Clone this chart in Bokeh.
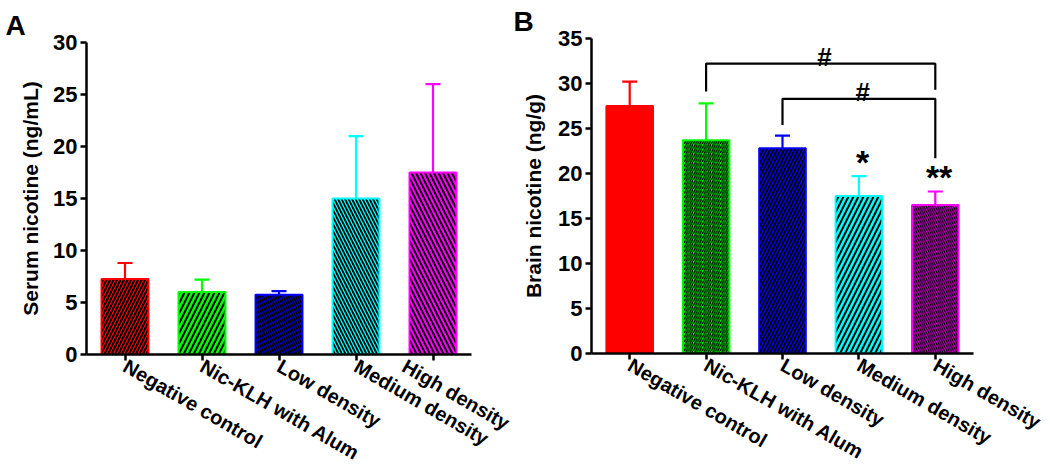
import math
from bokeh.plotting import figure
from bokeh.layouts import row, column
from bokeh.models import ColumnDataSource, FactorRange, Range1d, FixedTicker, Spacer
from bokeh.embed import file_html
from bokeh.resources import INLINE
from bokeh.core.properties import value

categories = ["Negative control", "Nic-KLH with Alum", "Low density",
              "Medium density", "High density"]
bar_colors = ["#FF0000", "#00FF00", "#0000FF", "#00FFFF", "#FF00FF"]

# Panel A: serum nicotine (ng/mL)
serum_mean = [7.25, 6.0, 5.75, 15.0, 17.5]
serum_sem = [1.55, 1.2, 0.35, 6.0, 8.5]
serum_hatch = ["/", "/", "\\", "\\", "\\"]
serum_hatch_scale = [7, 10, 5, 7, 9]
serum_hatch_weight = [2.0, 2.0, 1.6, 1.8, 2.0]
serum_ticks = [0, 5, 10, 15, 20, 25, 30]

# Panel B: brain nicotine (ng/g)
brain_mean = [27.5, 23.7, 22.8, 17.5, 16.5]
brain_sem = [2.7, 4.1, 1.4, 2.2, 1.5]
brain_hatch = [" ", "/", "/", "/", "\\"]
brain_hatch_scale = [12, 4.5, 7, 10, 4.5]
brain_hatch_weight = [1.0, 1.3, 1.9, 2.0, 1.3]
brain_ticks = [0, 5, 10, 15, 20, 25, 30, 35]

# significance brackets (panel B)
bracket_left = ["Nic-KLH with Alum", "Low density"]
bracket_right = ["High density", "High density"]
bracket_top = [32.2, 28.3]
bracket_left_end = [29.1, 25.4]
bracket_right_end = [29.3, 21.7]
bracket_mark = ["#", "#"]
star_groups = ["Medium density", "High density"]
star_marks = ["*", "**"]

FONT = "Liberation Sans"


def make_panel(letter, ylabel, ymax, ticks, mean, sem, hatch, hscale, hweight,
               frame_w, frame_h, left_border, top_border, right_border,
               title_standoff, letter_offset):
    p = figure(x_range=FactorRange(*categories), y_range=Range1d(0, ymax),
               frame_width=frame_w, frame_height=frame_h,
               min_border_left=left_border, min_border_top=top_border,
               min_border_right=right_border, min_border_bottom=10,
               output_backend="svg", toolbar_location=None, title=letter)
    p.title.align = "left"
    p.title.offset = letter_offset
    p.title.standoff = 3
    p.title.text_font = FONT
    p.title.text_font_style = "bold"
    p.title.text_font_size = "28px"
    p.title.text_color = "black"
    p.outline_line_color = None
    p.xgrid.grid_line_color = None
    p.ygrid.grid_line_color = None
    p.background_fill_color = "white"
    p.border_fill_color = "white"

    tops = [m + s for m, s in zip(mean, sem)]
    src = ColumnDataSource(dict(cat=categories, mean=mean, top=tops,
                                color=bar_colors, hatch=hatch,
                                hscale=hscale, hweight=hweight))
    p.vbar(x="cat", top="mean", bottom=0, width=0.61, source=src,
           fill_color="color", line_color="color", line_width=2,
           hatch_pattern="hatch", hatch_scale="hscale",
           hatch_weight="hweight", hatch_color="black")
    p.segment(x0="cat", y0="mean", x1="cat", y1="top", source=src,
              line_color="color", line_width=2.2)
    p.scatter(x="cat", y="top", marker="dash", size=15, source=src,
              line_color="color", line_width=2.2, fill_color=None)

    for ax in (p.xaxis[0], p.yaxis[0]):
        ax.axis_line_width = 2.5
        ax.axis_line_color = "black"
        ax.major_tick_line_width = 2.5
        ax.major_tick_line_color = "black"
        ax.major_tick_out = 6
        ax.major_tick_in = 0
        ax.minor_tick_line_color = None
        ax.major_label_text_font = FONT
        ax.major_label_text_font_style = "bold"
        ax.major_label_text_color = "black"

    p.yaxis.ticker = FixedTicker(ticks=ticks)
    p.yaxis.major_label_text_font_size = "22px"
    p.yaxis.major_label_standoff = 3
    p.yaxis.axis_label = ylabel
    p.yaxis.axis_label_text_font = FONT
    p.yaxis.axis_label_text_font_style = "bold"
    p.yaxis.axis_label_text_font_size = "21px"
    p.yaxis.axis_label_text_color = "black"
    p.yaxis.axis_label_standoff = title_standoff

    p.xaxis.major_label_orientation = -math.pi / 6
    p.xaxis.major_label_text_font_size = "20px"
    p.xaxis.major_label_standoff = 4
    return p


pA = make_panel("A", "Serum nicotine (ng/mL)", 30, serum_ticks, serum_mean,
                serum_sem, serum_hatch, serum_hatch_scale, serum_hatch_weight,
                385, 312, 86, 38, 42, 8, -81)

pB = make_panel("B", "Brain nicotine (ng/g)", 35, brain_ticks, brain_mean,
                brain_sem, brain_hatch, brain_hatch_scale, brain_hatch_weight,
                382, 315, 78, 38, 77, 10, -78)

# brackets
xs, ys, tx, ty = [], [], [], []
for l, r, t, le, re_, in zip(bracket_left, bracket_right, bracket_top,
                             bracket_left_end, bracket_right_end):
    li = categories.index(l) + 0.5
    ri = categories.index(r) + 0.5
    xs.append([li, li, ri, ri])
    ys.append([le, t, t, re_])
    tx.append((li + ri) / 2 + 0.05)
    ty.append(t + 0.8)
pB.multi_line(xs=xs, ys=ys, line_color="black", line_width=2.2)
pB.text(x=tx, y=ty, text=bracket_mark, text_font=value(FONT),
        text_font_style="bold", text_font_size="26px", text_color="black",
        text_align="center", text_baseline="alphabetic")

star_y = [brain_mean[categories.index(g)] + brain_sem[categories.index(g)] + 1.6
          for g in star_groups]
star_x = [categories.index(g) + 0.55 for g in star_groups]
pB.text(x=star_x, y=star_y, text=star_marks, text_font=value(FONT),
        text_font_style="bold", text_font_size="34px", text_color="black",
        text_align="center", text_baseline="alphabetic")

layout = row(column(Spacer(height=4), pA), pB)
open("out.html", "w").write(file_html(layout, INLINE))
